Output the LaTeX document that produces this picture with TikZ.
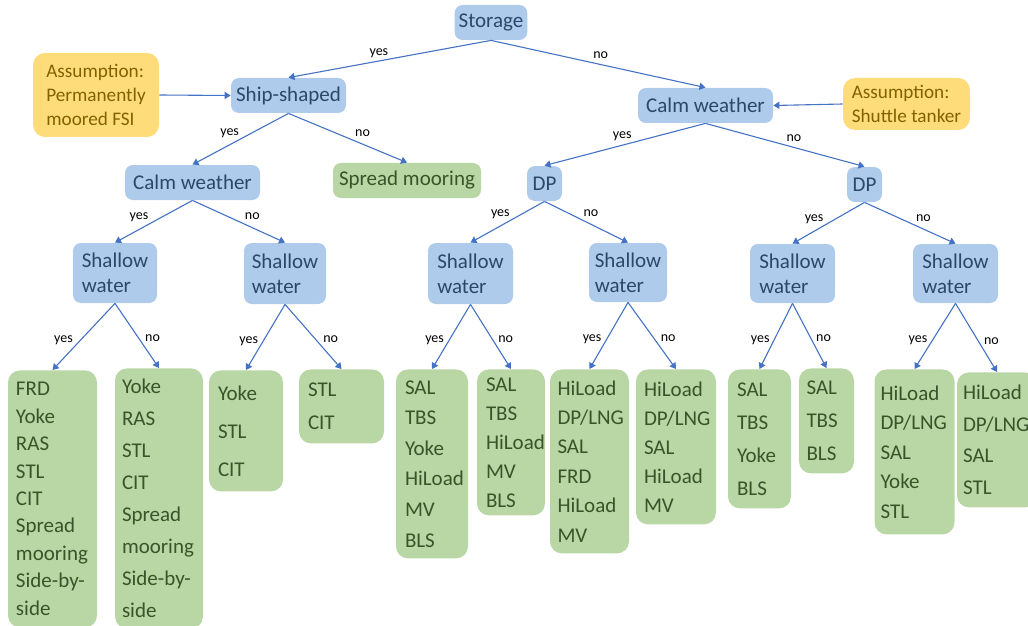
\documentclass[tikz,border=0pt]{standalone}
\usepackage{fontspec}
\setmainfont{Carlito}
\usetikzlibrary{arrows.meta,positioning}

\definecolor{qblue}{HTML}{AECBEB}
\definecolor{qbluetext}{HTML}{2C4868}
\definecolor{lgreen}{HTML}{B8D7A4}
\definecolor{lgreentext}{HTML}{37552A}
\definecolor{ayellow}{HTML}{FFDC7A}
\definecolor{ayellowtext}{HTML}{7F6300}
\definecolor{linkblue}{HTML}{4472C4}

\newcommand{\leafsp}[1]{\fontsize{10.5pt}{#1pt}\selectfont}

\begin{document}
\begin{tikzpicture}[auto, x=0.5pt, y=-0.5pt, >={Triangle[length=3pt,width=3.6pt]}]
    % Estilos
    \tikzstyle{decision} = [fill=qblue, text=qbluetext, rounded corners=4pt, inner sep=2pt, align=left, font=\fontsize{10.5pt}{12.5pt}\selectfont]
    \tikzstyle{leaf} = [fill=lgreen, text=lgreentext, rounded corners=6pt, inner sep=3pt, align=left, anchor=north]
    \tikzstyle{note} = [fill=ayellow, text=ayellowtext, rounded corners=6pt, inner sep=3pt, align=left, font=\fontsize{9.6pt}{12pt}\selectfont]
    \tikzstyle{lbl} = [font=\fontsize{7pt}{8pt}\selectfont, text height=1.2ex, text depth=.25ex, inner sep=0.5pt]
    \tikzstyle{conn} = [->, draw=linkblue, line width=0.55pt]

    \useasboundingbox (0,0) rectangle (1028,626);

    % --- Raiz y primer nivel ---
    \node [decision, minimum width=34pt, minimum height=17.5pt] (storage) at (491,22.5) {Storage};
    \node [decision, minimum width=57.5pt, minimum height=17.5pt] (ship) at (288.5,95.5) {Ship-shaped};
    \node [decision, minimum width=67.5pt, minimum height=17.5pt] (calmR) at (705.5,105.5) {Calm weather};
    \node [note, minimum width=63pt, minimum height=42pt] (assumeL) at (96,95) {Assumption:\\Permanently\\moored FSI};
    \node [note, minimum width=63.5pt, minimum height=26pt] (assumeR) at (906.5,104) {Assumption:\\Shuttle tanker};

    % --- Segundo nivel ---
    \node [decision, minimum width=67.5pt, minimum height=17.5pt] (calmL) at (192.5,182.5) {Calm weather};
    \node [decision, fill=lgreen, text=lgreentext, minimum width=74pt, minimum height=17.5pt] (spread) at (407,180.5) {Spread mooring};
    \node [decision, minimum width=17.5pt, minimum height=17.5pt] (dpL) at (544.5,183.5) {DP};
    \node [decision, minimum width=17.5pt, minimum height=17.5pt] (dpR) at (864.5,184.5) {DP};

    % --- Shallow water ---
    \node [decision, minimum width=42pt, minimum height=30pt] (sw1) at (115,273) {Shallow\\water};
    \node [decision, minimum width=41pt, minimum height=30.5pt] (sw2) at (285,273.5) {Shallow\\water};
    \node [decision, minimum width=42.5pt, minimum height=30.5pt] (sw3) at (470.5,273.5) {Shallow\\water};
    \node [decision, minimum width=39pt, minimum height=29.5pt] (sw4) at (628,272.5) {Shallow\\water};
    \node [decision, minimum width=42.5pt, minimum height=29.5pt] (sw5) at (792.5,273.5) {Shallow\\water};
    \node [decision, minimum width=42.5pt, minimum height=29.5pt] (sw6) at (955.5,273.5) {Shallow\\water};

    % --- Hojas (conceptos) ---
    \node [leaf, font=\leafsp{13.7}, minimum width=44.5pt, text width=36.5pt, minimum height=128.5pt] (l1) at (52.5,370) {FRD\\Yoke\\RAS\\STL\\CIT\\Spread\\mooring\\Side-by-\\side};
    \node [leaf, font=\leafsp{16}, minimum width=44pt, text width=37pt, minimum height=130pt] (l2) at (159,368) {Yoke\\RAS\\STL\\CIT\\Spread\\mooring\\Side-by-\\side};
    \node [leaf, font=\leafsp{19}, minimum width=37pt, text width=28pt, minimum height=60.5pt] (l3) at (246,370) {Yoke\\STL\\CIT};
    \node [leaf, font=\leafsp{16.5}, minimum width=42.5pt, text width=33.5pt, minimum height=37pt] (l4) at (341.5,369) {STL\\CIT};
    \node [leaf, font=\leafsp{15.3}, minimum width=36pt, text width=27pt, minimum height=94.5pt] (l5) at (432,369) {SAL\\TBS\\Yoke\\HiLoad\\MV\\BLS};
    \node [leaf, font=\leafsp{14.5}, minimum width=34pt, text width=25pt, minimum height=73pt] (l6) at (511,369) {SAL\\TBS\\HiLoad\\MV\\BLS};
    \node [leaf, font=\leafsp{14.7}, minimum width=39.5pt, text width=32pt, minimum height=92pt] (l7) at (589.5,369) {HiLoad\\DP/LNG\\SAL\\FRD\\HiLoad\\MV};
    \node [leaf, font=\leafsp{14.5}, minimum width=40pt, text width=32pt, minimum height=77.5pt] (l8) at (676,369) {HiLoad\\DP/LNG\\SAL\\HiLoad\\MV};
    \node [leaf, font=\leafsp{16.5}, minimum width=31.5pt, text width=22.5pt, minimum height=69.5pt] (l9) at (759.5,369) {SAL\\TBS\\Yoke\\BLS};
    \node [leaf, font=\leafsp{16.5}, minimum width=27.5pt, text width=20pt, minimum height=52.5pt] (l10) at (826.5,368) {SAL\\TBS\\BLS};
    \node [leaf, font=\leafsp{14.75}, minimum width=37.5pt, text width=34pt, minimum height=82.5pt] (l11) at (914.5,369) {HiLoad\\DP/LNG\\SAL\\Yoke\\STL};
    \node [leaf, font=\leafsp{15.85}, minimum width=39pt, text width=34pt, minimum height=67.5pt] (l12) at (997,372) {HiLoad\\DP/LNG\\SAL\\STL};

    % --- Conexiones ---
    \draw [conn] (storage.south) -- node[lbl, swap, pos=0.5] {yes} (ship.north);
    \draw [conn] (storage.south) -- node[lbl, pos=0.47] {no} (calmR.north);
    \draw [conn] (assumeL.east) -- (ship.west);
    \draw [conn] (assumeR.west) -- (calmR.east);

    \draw [conn] (ship.south) -- node[lbl, swap, pos=0.5] {yes} (calmL.north);
    \draw [conn] (ship.south) -- node[lbl, pos=0.55] {no} (spread.north);
    \draw [conn] (calmR.south) -- node[lbl, swap, pos=0.45] {yes} (dpL.north);
    \draw [conn] (calmR.south) -- node[lbl, pos=0.5] {no} (dpR.north);

    \draw [conn] (calmL.south) -- node[lbl, swap, pos=0.55] {yes} (sw1.north);
    \draw [conn] (calmL.south) -- node[lbl, pos=0.55] {no} (sw2.north);
    \draw [conn] (dpL.south) -- node[lbl, swap, pos=0.45] {yes} (sw3.north);
    \draw [conn] (dpL.south) -- node[lbl, pos=0.45] {no} (sw4.north);
    \draw [conn] (dpR.south) -- node[lbl, swap, pos=0.55] {yes} (sw5.north);
    \draw [conn] (dpR.south) -- node[lbl, pos=0.55] {no} (sw6.north);

    \draw [conn] (sw1.south) -- node[lbl, swap, pos=0.65] {yes} (l1.north);
    \draw [conn] (sw1.south) -- node[lbl, pos=0.65] {no} (l2.north);
    \draw [conn] (sw2.south) -- node[lbl, swap, pos=0.65] {yes} (l3.north);
    \draw [conn] (sw2.south) -- node[lbl, pos=0.65] {no} (l4.north);
    \draw [conn] (sw3.south) -- node[lbl, swap, pos=0.65] {yes} (l5.north);
    \draw [conn] (sw3.south) -- node[lbl, pos=0.65] {no} (l6.north);
    \draw [conn] (sw4.south) -- node[lbl, swap, pos=0.65] {yes} (l7.north);
    \draw [conn] (sw4.south) -- node[lbl, pos=0.65] {no} (l8.north);
    \draw [conn] (sw5.south) -- node[lbl, swap, pos=0.65] {yes} (l9.north);
    \draw [conn] (sw5.south) -- node[lbl, pos=0.65] {no} (l10.north);
    \draw [conn] (sw6.south) -- node[lbl, swap, pos=0.65] {yes} (l11.north);
    \draw [conn] (sw6.south) -- node[lbl, pos=0.65] {no} (l12.north);

\end{tikzpicture}
\end{document}
